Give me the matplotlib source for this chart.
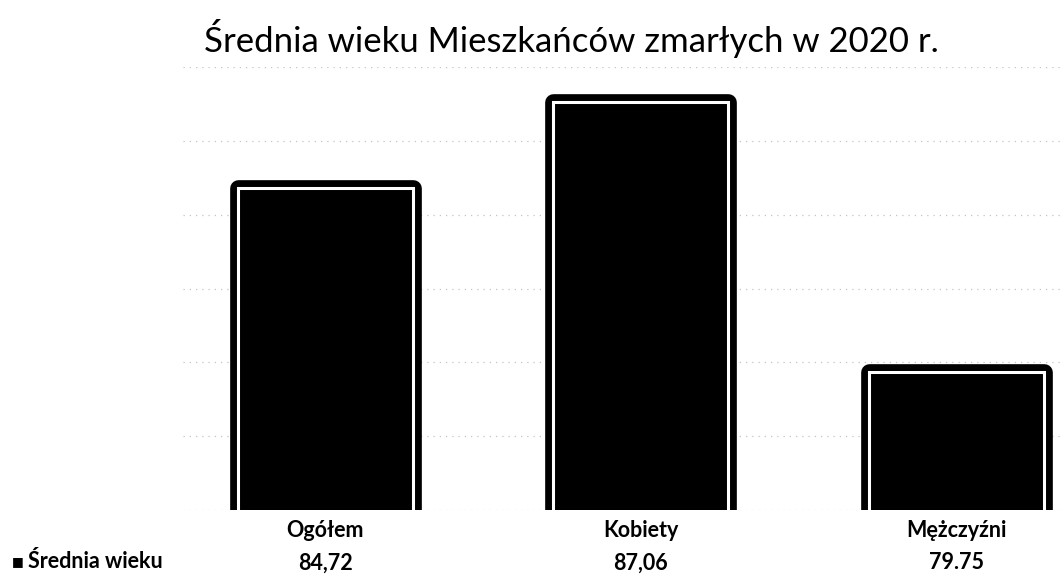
import matplotlib
matplotlib.use("Agg")
import matplotlib.pyplot as plt

categories = ["Ogółem", "Kobiety", "Mężczyźni"]
values = [84.72, 87.06, 79.75]
value_labels = ["84,72", "87,06", "79.75"]
series_name = "Średnia wieku"
title = "Średnia wieku Mieszkańców zmarłych w 2020 r."

plt.rcParams['font.family'] = ['Lato', 'DejaVu Sans']

fig = plt.figure(figsize=(10.62, 5.78), dpi=100)
ax = fig.add_axes([183/1062, 1-510/578, 1-183/1062, (510-67)/578])

x = list(range(len(categories)))
bw = 0.555
# glow / thick dark outline
ax.bar(x, values, width=bw, color='black', edgecolor='black', linewidth=12,
       joinstyle='round', zorder=2)
# white inner border
ax.bar(x, values, width=bw, color='black', edgecolor='white', linewidth=2.2, zorder=3)

ax.set_ylim(76, 88)
ax.set_xlim(-0.451, 2.335)
ax.set_yticks([76, 78, 80, 82, 84, 86, 88])
ax.yaxis.grid(True, color='#c4c4c4', linestyle=(0, (1, 4)), linewidth=0.9)
ax.set_axisbelow(True)
ax.tick_params(left=False, bottom=False, labelleft=False, labelbottom=False)
for s in ax.spines.values():
    s.set_visible(False)

fig.text(571/1062, 1-38/578, title, ha='center', va='center', fontsize=25, color='black')

for xi, cat, vl in zip(x, categories, value_labels):
    ax.annotate(cat, xy=(xi, 0), xycoords=('data', 'axes fraction'),
                xytext=(0, -14.5), textcoords='offset points', ha='center', va='center',
                fontsize=15.5, fontweight='bold')
    ax.annotate(vl, xy=(xi, 0), xycoords=('data', 'axes fraction'),
                xytext=(0, -38), textcoords='offset points', ha='center', va='center',
                fontsize=15.5, fontweight='bold')

fig.text(12/1062, 1-562/578, "■", ha='left', va='center',
         fontsize=9, family=['DejaVu Sans'])
fig.text(28/1062, 1-561/578, series_name, ha='left', va='center',
         fontsize=15.5, fontweight='bold')

fig.savefig("out.png", dpi=100)
